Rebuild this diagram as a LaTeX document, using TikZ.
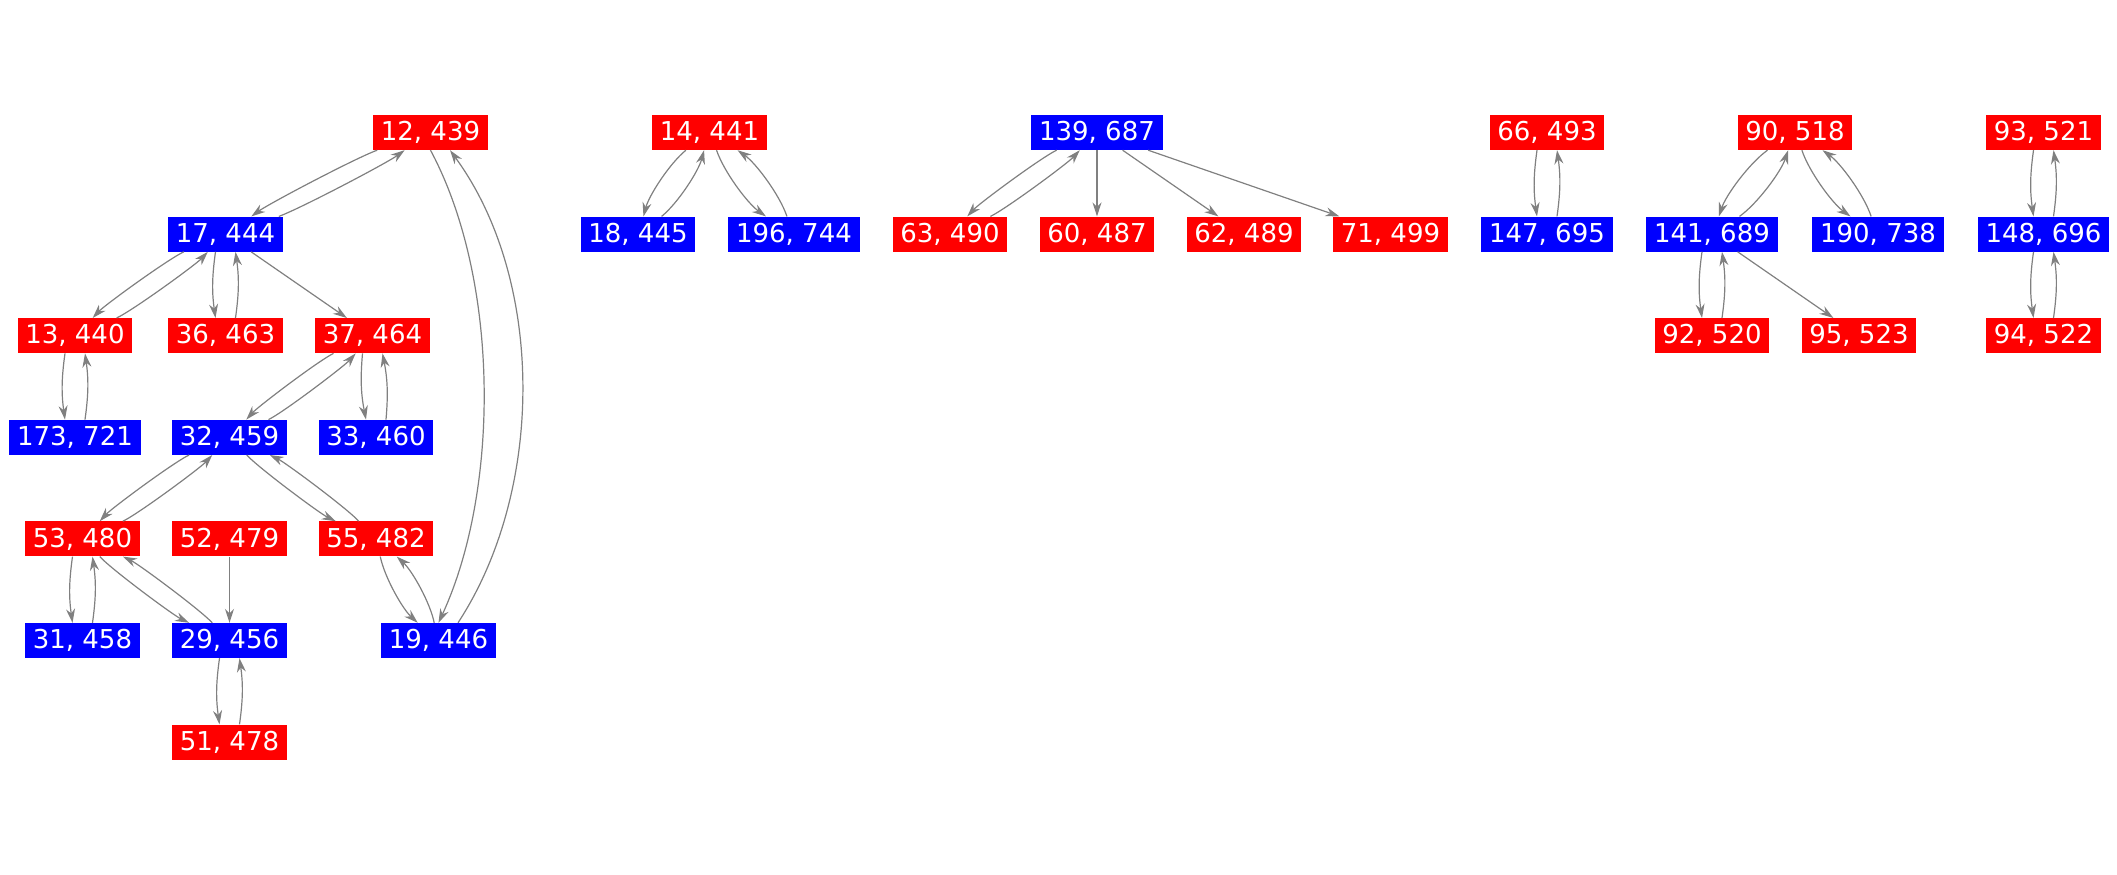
\documentclass[tikz,border=0pt]{standalone}
\usepackage{fontspec}
\setmainfont{DejaVu Sans}
\usepackage{tikz}
\usetikzlibrary{positioning,arrows.meta}

\begin{document}
\begin{tikzpicture}[x=1pt, y=-1pt, node distance=101.6pt,
        box/.style = {minimum height=35pt, inner xsep=7.75pt, inner ysep=0pt, text=white, font=\fontsize{26}{30}\selectfont},
        rednode/.style = {box, fill=red},
        bluenode/.style = {box, fill=blue},
        conn/.style = {-{Stealth[length=14pt, width=9pt]}, draw=gray, line width=1.2pt},
        flat/.style = {bend right=#1, looseness=0.4},
        steep/.style = {bend right=#1, looseness=0.7}]
    \useasboundingbox (0,0) rectangle (2117,875);
        \node[rednode] (n12) at (430.5,132.5) {12, 439};
        \node[bluenode] (n17) [below of=n12, xshift=-205] {17, 444};
        \node[rednode] (n13) [below of=n17, xshift=-150.5] {13, 440};
        \node[rednode] (n36) [below of=n17] {36, 463};
        \node[rednode] (n37) [below of=n17, xshift=147] {37, 464};
        \node[bluenode] (n173) [below of=n13] {173, 721};
        \node[bluenode] (n32) [below of=n36, xshift=4] {32, 459};
        \node[bluenode] (n33) [below of=n37, xshift=3.5] {33, 460};
        \node[rednode] (n53) [below of=n173, xshift=7.5] {53, 480};
        \node[rednode] (n52) [below of=n32] {52, 479};
        \node[rednode] (n55) [below of=n33] {55, 482};
        \node[bluenode] (n31) [below of=n53] {31, 458};
        \node[bluenode] (n29) [below of=n52] {29, 456};
        \node[bluenode] (n19) [below of=n55, xshift=62.5] {19, 446};
        \node[rednode] (n51) [below of=n29] {51, 478};

        \node[rednode] (n14) at (709.5,132.5) {14, 441};
        \node[bluenode] (n18) [below of=n14, xshift=-71.5] {18, 445};
        \node[bluenode] (n196) [below of=n14, xshift=84.5] {196, 744};

        \node[bluenode] (n139) at (1097,132.5) {139, 687};
        \node[rednode] (n63) [below of=n139, xshift=-147] {63, 490};
        \node[rednode] (n60) [below of=n139] {60, 487};
        \node[rednode] (n62) [below of=n139, xshift=147] {62, 489};
        \node[rednode] (n71) [below of=n139, xshift=293.5] {71, 499};

        \node[rednode] (n66) at (1547,132.5) {66, 493};
        \node[bluenode] (n147) [below of=n66] {147, 695};

        \node[rednode] (n90) at (1795,132.5) {90, 518};
        \node[bluenode] (n141) [below of=n90, xshift=-83] {141, 689};
        \node[bluenode] (n190) [below of=n90, xshift=83] {190, 738};
        \node[rednode] (n92) [below of=n141] {92, 520};
        \node[rednode] (n95) [below of=n141, xshift=147] {95, 523};

        \node[rednode] (n93) at (2043.5,132.5) {93, 521};
        \node[bluenode] (n148) [below of=n93] {148, 696};
        \node[rednode] (n94) [below of=n148] {94, 522};

        \draw[conn] (n12) to[flat=8] (n17);
        \draw[conn] (n17) to[flat=8] (n12);
        \draw[conn] (n17) to[flat=11] (n13);
        \draw[conn] (n13) to[flat=11] (n17);
        \draw[conn] ([xshift=-10pt]n17.south) to[bend right=8] ([xshift=-10pt]n36.north);
        \draw[conn] ([xshift=10pt]n36.north) to[bend right=8] ([xshift=10pt]n17.south);
        \draw[conn] (n17) -- (n37);
        \draw[conn] ([xshift=-10pt]n13.south) to[bend right=8] ([xshift=-10pt]n173.north);
        \draw[conn] ([xshift=10pt]n173.north) to[bend right=8] ([xshift=10pt]n13.south);
        \draw[conn] (n37) to[flat=11] (n32);
        \draw[conn] (n32) to[flat=11] (n37);
        \draw[conn] ([xshift=-10pt]n37.south) to[bend right=8] ([xshift=-10pt]n33.north);
        \draw[conn] ([xshift=10pt]n33.north) to[bend right=8] ([xshift=10pt]n37.south);
        \draw[conn] (n32) to[flat=11] (n53);
        \draw[conn] (n53) to[flat=11] (n32);
        \draw[conn] (n32) to[flat=11] (n55);
        \draw[conn] (n55) to[flat=11] (n32);
        \draw[conn] ([xshift=-10pt]n53.south) to[bend right=8] ([xshift=-10pt]n31.north);
        \draw[conn] ([xshift=10pt]n31.north) to[bend right=8] ([xshift=10pt]n53.south);
        \draw[conn] (n53) to[flat=11] (n29);
        \draw[conn] (n29) to[flat=11] (n53);
        \draw[conn] (n52) -- (n29);
        \draw[conn] ([xshift=-10pt]n29.south) to[bend right=8] ([xshift=-10pt]n51.north);
        \draw[conn] ([xshift=10pt]n51.north) to[bend right=8] ([xshift=10pt]n29.south);
        \draw[conn] (n55) to[steep=18] (n19);
        \draw[conn] (n19) to[steep=18] (n55);
        \draw[conn] (n12.south) .. controls (500,280) and (500,490) .. (n19.north);
        \draw[conn] ([xshift=19.5pt]n19.north) .. controls (545,490) and (545,280) .. ([xshift=19.5pt]n12.south);

        \draw[conn] (n14) to[steep=18] (n18);
        \draw[conn] (n18) to[steep=18] (n14);
        \draw[conn] (n14) to[steep=18] (n196);
        \draw[conn] (n196) to[steep=18] (n14);

        \draw[conn] (n139) to[flat=11] (n63);
        \draw[conn] (n63) to[flat=11] (n139);
        \draw[conn] (n139) -- (n60);
        \draw[conn] (n139) -- (n62);
        \draw[conn] (n139) -- (n71);

        \draw[conn] ([xshift=-10pt]n66.south) to[bend right=8] ([xshift=-10pt]n147.north);
        \draw[conn] ([xshift=10pt]n147.north) to[bend right=8] ([xshift=10pt]n66.south);

        \draw[conn] (n90) to[steep=18] (n141);
        \draw[conn] (n141) to[steep=18] (n90);
        \draw[conn] (n90) to[steep=18] (n190);
        \draw[conn] (n190) to[steep=18] (n90);
        \draw[conn] ([xshift=-10pt]n141.south) to[bend right=8] ([xshift=-10pt]n92.north);
        \draw[conn] ([xshift=10pt]n92.north) to[bend right=8] ([xshift=10pt]n141.south);
        \draw[conn] (n141) -- (n95);

        \draw[conn] ([xshift=-10pt]n93.south) to[bend right=8] ([xshift=-10pt]n148.north);
        \draw[conn] ([xshift=10pt]n148.north) to[bend right=8] ([xshift=10pt]n93.south);
        \draw[conn] ([xshift=-10pt]n148.south) to[bend right=8] ([xshift=-10pt]n94.north);
        \draw[conn] ([xshift=10pt]n94.north) to[bend right=8] ([xshift=10pt]n148.south);
    \end{tikzpicture}
\end{document}
